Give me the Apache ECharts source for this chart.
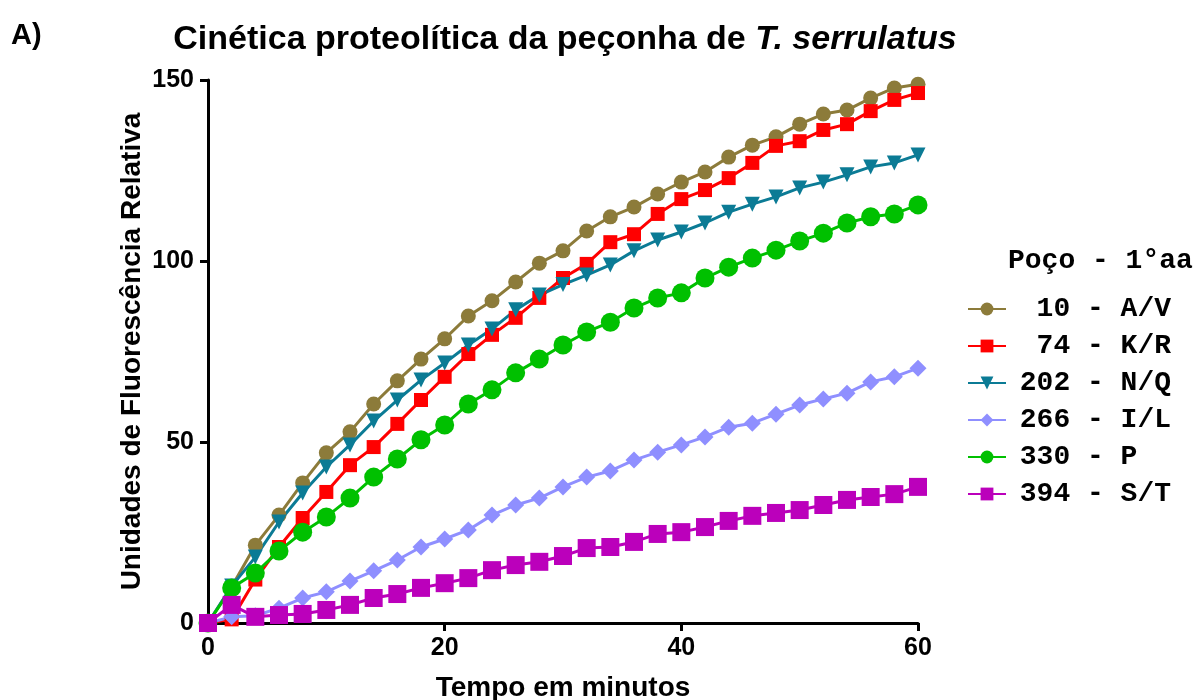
<!DOCTYPE html>
<html>
<head>
<meta charset="utf-8">
<script src="https://cdn.jsdelivr.net/npm/echarts@6/dist/echarts.min.js"></script>
<style>
  html, body { margin: 0; padding: 0; background: #fff; }
  #charts { width: 1196px; height: 700px; }
</style>
</head>
<body>
<div id="charts"></div>
<script>
// tempo em minutos, leituras a cada 2 min
const minutes = [0, 2, 4, 6, 8, 10, 12, 14, 16, 18, 20, 22, 24, 26, 28, 30,
  32, 34, 36, 38, 40, 42, 44, 46, 48, 50, 52, 54, 56, 58, 60]

const seriesNames = ['  10 - A/V', '  74 - K/R', ' 202 - N/Q', ' 266 - I/L', ' 330 - P', ' 394 - S/T']

const av10 = [0, 10, 21.5, 29.8, 38.7, 47, 52.8, 60.5, 66.9, 72.9, 78.5, 84.8, 89, 94.2, 99.4, 102.8,
  108.3, 112.2, 114.9, 118.5, 121.8, 124.6, 128.7, 132, 134.3, 137.8, 140.6, 141.7, 145, 147.8, 148.8]
const kr74 = [0, 1, 12, 21, 29, 36.2, 43.6, 48.6, 55, 61.6, 68, 74.3, 79.6, 84.3, 89.8, 95.3,
  99.2, 105.2, 107.4, 113, 117.1, 119.6, 122.9, 127.1, 131.8, 133.1, 136.2, 137.8, 141.4, 144.5, 146.4]
const nq202 = [0, 10.2, 18.2, 27.9, 35.9, 43.1, 49.2, 55.8, 61.6, 67.1, 71.8, 76.8, 81.2, 86.5, 90.6, 93.5,
  96.1, 98.9, 102.8, 105.8, 108, 110.5, 113.5, 115.7, 117.7, 120.2, 121.8, 123.8, 126, 127.1, 129.3]
const il266 = [0, 1.7, 2, 4.1, 6.9, 8.6, 11.6, 14.4, 17.4, 21, 23.2, 25.7, 29.8, 32.6, 34.5, 37.6,
  40.3, 42, 45, 47.2, 49.2, 51.4, 54.1, 55.2, 57.7, 60.2, 61.9, 63.5, 66.6, 68, 70.4]
const p330 = [0, 9.7, 13.8, 19.9, 25.1, 29.3, 34.5, 40.3, 45.3, 50.6, 54.7, 60.5, 64.4, 69.1, 72.9, 76.8,
  80.4, 83.1, 87, 89.8, 91.2, 95.3, 98.3, 100.8, 103, 105.5, 107.7, 110.5, 112.2, 113, 115.5]
const st394 = [0, 5, 1.7, 2.2, 2.5, 3.6, 5, 6.9, 8, 9.7, 11, 12.4, 14.6, 16, 16.9, 18.5,
  20.7, 21, 22.4, 24.6, 25.1, 26.5, 28.2, 29.6, 30.4, 31.2, 32.6, 34, 34.8, 35.6, 37.6]

const colors = ['#8c7b3a', '#ff0000', '#0b7b95', '#8f8fff', '#00c000', '#bb00bb']
const symbols = ['circle', 'rect', 'triangle', 'diamond', 'circle', 'rect']
const symbolSizes = [15, 14, 15, 17, 19, 18]
const rotations = [0, 0, 180, 0, 0, 0]
const values = [av10, kr74, nq202, il266, p330, st394]

const div = document.getElementById('charts')
const charts = echarts.init(div)

const sansBold = { fontFamily: 'Liberation Sans, Arial, sans-serif', fontWeight: 'bold', color: '#000' }

charts.setOption({
  animation: false,
  title: [
    {
      text: '{a|Cinética proteolítica da peçonha de }{b|T. serrulatus}',
      left: 560,
      textAlign: 'center',
      top: 18,
      textStyle: {
        rich: {
          a: { ...sansBold, fontSize: 34 },
          b: { ...sansBold, fontSize: 34, fontStyle: 'italic' },
        },
      },
    },
    {
      text: 'A)',
      left: 6,
      top: 16,
      textStyle: { ...sansBold, fontSize: 29 },
    },
    {
      text: 'Poço - 1°aa',
      left: 1003,
      top: 242,
      textStyle: { fontFamily: 'Liberation Mono, Courier New, monospace', fontWeight: 'bold', fontSize: 28, color: '#000' },
    },
  ],
  legend: {
    orient: 'vertical',
    left: 962,
    top: 290,
    itemWidth: 38,
    itemHeight: 16,
    itemGap: 9,
    data: seriesNames,
    textStyle: {
      fontFamily: 'Liberation Mono, Courier New, monospace',
      fontWeight: 'bold',
      fontSize: 28,
      lineHeight: 28,
      color: '#000',
      padding: [0, 0, 0, -8],
    },
  },
  grid: {
    left: 208,
    right: 278,
    top: 80,
    bottom: 77,
    outerBoundsMode: 'none',
  },
  xAxis: {
    type: 'value',
    min: 0,
    max: 60,
    interval: 20,
    name: 'Tempo em minutos',
    nameLocation: 'middle',
    nameGap: 51,
    nameMoveOverlap: false,
    nameTextStyle: { ...sansBold, fontSize: 28 },
    axisLine: { lineStyle: { color: '#000', width: 3 } },
    axisTick: { show: true, length: 8, lineStyle: { color: '#000', width: 3 } },
    axisLabel: { ...sansBold, fontSize: 25, margin: 13 },
    splitLine: { show: false },
  },
  yAxis: {
    type: 'value',
    min: 0,
    max: 150,
    interval: 50,
    name: 'Unidades de Fluorescência Relativa',
    nameLocation: 'middle',
    nameGap: 62,
    nameMoveOverlap: false,
    nameTextStyle: { ...sansBold, fontSize: 28 },
    axisLine: { show: true, lineStyle: { color: '#000', width: 3 } },
    axisTick: { show: true, length: 8, lineStyle: { color: '#000', width: 3 } },
    axisLabel: { ...sansBold, fontSize: 25, margin: 14 },
    splitLine: { show: false },
  },
  series: values.map((vals, i) => ({
    name: seriesNames[i],
    type: 'line',
    data: minutes.map((m, j) => [m, vals[j]]),
    symbol: symbols[i],
    symbolSize: symbolSizes[i],
    symbolRotate: rotations[i],
    showAllSymbol: true,
    clip: false,
    itemStyle: { color: colors[i], opacity: 1 },
    lineStyle: { color: colors[i], width: 3 },
  })),
})
</script>
</body>
</html>
